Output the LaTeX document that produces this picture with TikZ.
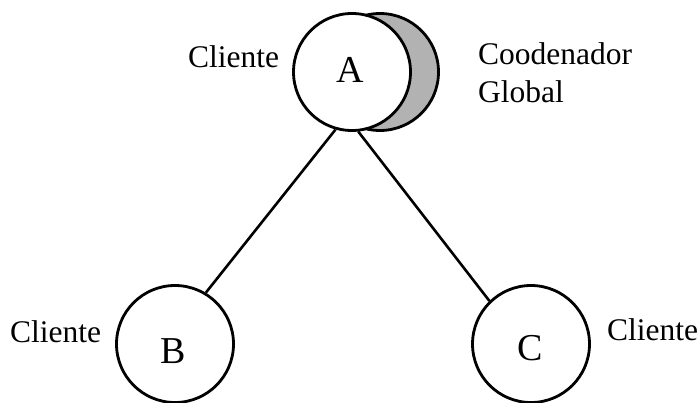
\documentclass[tikz,border=0pt]{standalone}
\usepackage{fontspec}
\setmainfont{Liberation Serif}
\begin{document}
\begin{tikzpicture}[x=1pt,y=-1pt,
  site/.style={circle, draw=black, line width=2.8pt, fill=white,
               minimum size=117pt, inner sep=0pt},
  shadow/.style={site, fill=black!30},
  link/.style={line width=2.6pt, black},
  letter/.style={anchor=base, inner sep=0pt, font=\fontsize{38}{44}\selectfont},
  role/.style={anchor=base west, inner sep=0pt, font=\fontsize{31.5}{38}\selectfont}]
\useasboundingbox (0,0) rectangle (700,403);

% global coordinator disc behind client A
\node[shadow] (G) at (380,72) {};
\node[site] (A) at (352,72) {};
\node[site] (B) at (175,344) {};
\node[site] (C) at (531,344) {};

\node[letter] (la) at (350,83) {A};
\node[letter] (lb) at (173,363) {B};
\node[letter] (lc) at (530,360) {C};

\draw[link] (A.254) -- (B.59);
\draw[link] (A.276) -- (C.134);

\node[role] (ra) at (188,68) {Cliente};
\node[role] (rg1) at (478,65) {Coodenador};
\node[role] (rg2) at (478,103) {Global};
\node[role] (rb) at (10,342) {Cliente};
\node[role] (rc) at (607,340) {Cliente};
\end{tikzpicture}
\end{document}
